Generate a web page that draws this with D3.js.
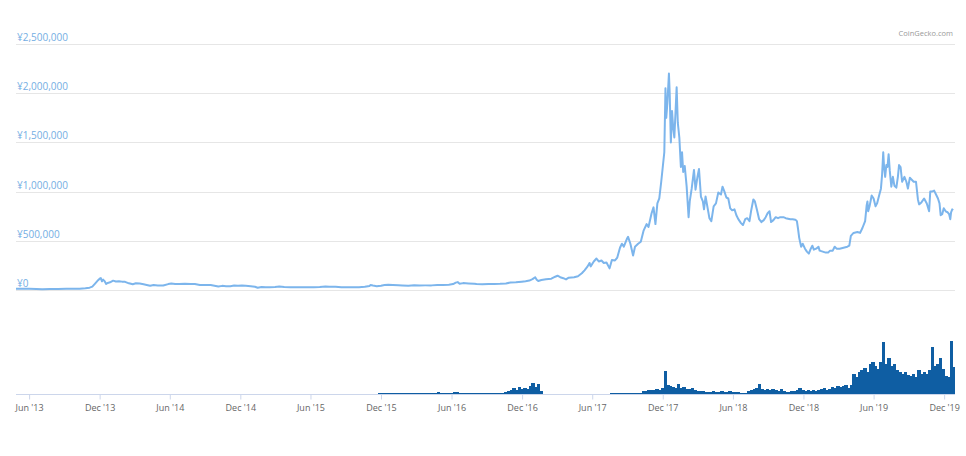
<!DOCTYPE html>
<html>
<head>
<meta charset="utf-8">
<script src="https://cdn.jsdelivr.net/npm/d3@7"></script>
<style>
  html, body { margin: 0; padding: 0; background: #fff; }
  svg { display: block; font-family: "Open Sans", sans-serif; }
</style>
</head>
<body>
<svg id="chart" width="966" height="456"></svg>
<script>
// ---- Price data (BTC in JPY) ----
const priceDates = [
"2013-04-28","2013-05-15","2013-06-01","2013-06-20","2013-07-05","2013-07-25","2013-08-15","2013-09-05","2013-09-25","2013-10-10",
"2013-10-25","2013-11-05","2013-11-12","2013-11-18","2013-11-22","2013-11-27","2013-12-01","2013-12-04","2013-12-07","2013-12-10",
"2013-12-14","2013-12-18","2013-12-22","2013-12-28","2014-01-05","2014-01-12","2014-01-20","2014-01-28","2014-02-05","2014-02-15",
"2014-02-25","2014-03-05","2014-03-15","2014-03-25","2014-04-05","2014-04-11","2014-04-20","2014-05-01","2014-05-15","2014-05-28",
"2014-06-05","2014-06-15","2014-06-25","2014-07-10","2014-07-25","2014-08-05","2014-08-18","2014-09-01","2014-09-15","2014-09-25",
"2014-10-05","2014-10-15","2014-10-25","2014-11-05","2014-11-15","2014-11-25","2014-12-05","2014-12-15","2014-12-28","2015-01-08",
"2015-01-15","2015-01-25","2015-02-05","2015-02-15","2015-03-01","2015-03-12","2015-03-25","2015-04-10","2015-04-25","2015-05-10",
"2015-05-25","2015-06-10","2015-06-25","2015-07-10","2015-07-20","2015-08-05","2015-08-20","2015-09-05","2015-09-20","2015-10-05",
"2015-10-20","2015-11-01","2015-11-04","2015-11-10","2015-11-20","2015-12-01","2015-12-10","2015-12-20","2016-01-01","2016-01-15",
"2016-01-25","2016-02-10","2016-02-25","2016-03-10","2016-03-25","2016-04-10","2016-04-25","2016-05-10","2016-05-25","2016-06-05",
"2016-06-12","2016-06-17","2016-06-22","2016-07-01","2016-07-15","2016-07-30","2016-08-05","2016-08-20","2016-09-05","2016-09-20",
"2016-10-05","2016-10-20","2016-11-01","2016-11-15","2016-11-30","2016-12-10","2016-12-20","2016-12-28","2017-01-04","2017-01-08",
"2017-01-12","2017-01-20","2017-02-01","2017-02-15","2017-02-25","2017-03-03","2017-03-10","2017-03-18","2017-03-25","2017-04-01",
"2017-04-15","2017-04-25","2017-05-05","2017-05-12","2017-05-20","2017-05-25","2017-05-28","2017-06-05","2017-06-12","2017-06-18",
"2017-06-25","2017-07-01","2017-07-08","2017-07-16","2017-07-22","2017-07-30","2017-08-05","2017-08-12","2017-08-17","2017-08-22",
"2017-08-30","2017-09-02","2017-09-08","2017-09-15","2017-09-20","2017-09-28","2017-10-05","2017-10-12","2017-10-20","2017-10-25",
"2017-11-02","2017-11-07","2017-11-12","2017-11-17","2017-11-22","2017-11-27","2017-12-01","2017-12-05","2017-12-08","2017-12-10",
"2017-12-13","2017-12-17","2017-12-19","2017-12-22","2017-12-25","2017-12-28","2017-12-31","2018-01-03","2018-01-06","2018-01-09",
"2018-01-13","2018-01-17","2018-01-20","2018-01-23","2018-01-27","2018-02-01","2018-02-06","2018-02-09","2018-02-14","2018-02-20",
"2018-02-24","2018-03-01","2018-03-05","2018-03-10","2018-03-15","2018-03-18","2018-03-22","2018-03-28","2018-04-01","2018-04-06",
"2018-04-12","2018-04-18","2018-04-24","2018-05-01","2018-05-05","2018-05-10","2018-05-15","2018-05-20","2018-05-25","2018-05-30",
"2018-06-05","2018-06-10","2018-06-15","2018-06-22","2018-06-27","2018-07-03","2018-07-08","2018-07-14","2018-07-18","2018-07-24",
"2018-07-28","2018-08-02","2018-08-08","2018-08-14","2018-08-20","2018-08-25","2018-08-30","2018-09-04","2018-09-08","2018-09-14",
"2018-09-20","2018-09-26","2018-10-02","2018-10-10","2018-10-16","2018-10-22","2018-10-28","2018-11-03","2018-11-10","2018-11-14",
"2018-11-17","2018-11-20","2018-11-25","2018-11-29","2018-12-05","2018-12-10","2018-12-15","2018-12-20","2018-12-24","2018-12-28",
"2019-01-03","2019-01-09","2019-01-12","2019-01-20","2019-01-28","2019-02-03","2019-02-08","2019-02-15","2019-02-20","2019-02-25",
"2019-03-05","2019-03-15","2019-03-25","2019-03-30","2019-04-03","2019-04-10","2019-04-20","2019-04-27","2019-05-03","2019-05-10",
"2019-05-14","2019-05-16","2019-05-18","2019-05-22","2019-05-27","2019-06-01","2019-06-06","2019-06-10","2019-06-16","2019-06-20",
"2019-06-23","2019-06-26","2019-06-28","2019-07-01","2019-07-04","2019-07-07","2019-07-10","2019-07-13","2019-07-17","2019-07-21",
"2019-07-25","2019-07-30","2019-08-03","2019-08-06","2019-08-10","2019-08-14","2019-08-20","2019-08-25","2019-08-29","2019-09-03",
"2019-09-08","2019-09-13","2019-09-19","2019-09-24","2019-09-27","2019-10-03","2019-10-10","2019-10-17","2019-10-23","2019-10-26",
"2019-10-30","2019-11-05","2019-11-10","2019-11-15","2019-11-19","2019-11-22","2019-11-26","2019-11-30","2019-12-05","2019-12-10",
"2019-12-14","2019-12-17","2019-12-19","2019-12-22","2019-12-24"
];
const priceValues = [
13500,12000,12500,11000,8000,9500,10500,12500,12500,13000,
18000,24000,34000,60000,78000,100000,115000,122000,88000,105000,
90000,62000,72000,78000,95000,87000,90000,85000,83000,68000,
58000,68000,65000,58000,48000,43000,51000,46000,46000,60000,
67000,62000,60000,64000,60000,60000,51000,50000,50000,44000,
36000,42000,39000,38000,45000,44000,45000,42000,38000,33000,
23000,30000,27000,28000,31000,35000,30000,28000,27000,29000,
28000,28000,30000,36000,34000,34000,28000,28000,28000,29000,
32000,40000,50000,45000,39000,44000,50000,53000,52000,48000,
46000,44000,48000,46000,47000,47000,50000,51000,54000,60000,
75000,80000,64000,70000,67000,63000,60000,59000,62000,62000,
63000,66000,76000,78000,85000,90000,96000,110000,130000,105000,
92000,102000,110000,115000,135000,145000,130000,120000,108000,125000,
130000,140000,170000,200000,240000,275000,240000,290000,320000,290000,
300000,275000,280000,220000,305000,300000,330000,430000,470000,440000,
520000,540000,470000,350000,440000,470000,490000,600000,670000,640000,
780000,840000,670000,880000,930000,1100000,1250000,1400000,2050000,1750000,
1900000,2200000,2000000,1500000,1820000,1650000,1550000,1800000,2060000,1700000,
1550000,1250000,1400000,1200000,1260000,1050000,740000,900000,1030000,1220000,
1020000,1150000,1230000,950000,900000,820000,950000,820000,730000,700000,
850000,880000,990000,970000,1050000,1000000,940000,930000,830000,810000,
820000,760000,720000,680000,660000,720000,730000,700000,800000,920000,
900000,820000,720000,690000,710000,740000,780000,800000,690000,710000,
740000,730000,740000,740000,730000,725000,720000,720000,715000,700000,
620000,530000,440000,470000,420000,390000,370000,420000,450000,410000,
420000,440000,400000,390000,380000,380000,400000,400000,440000,420000,
420000,430000,440000,450000,550000,580000,590000,580000,630000,700000,
860000,900000,800000,860000,960000,930000,850000,880000,970000,1030000,
1170000,1400000,1260000,1150000,1270000,1250000,1380000,1210000,1050000,1150000,
1060000,1040000,1150000,1270000,1250000,1100000,1150000,1100000,1030000,1140000,
1120000,1100000,1100000,920000,870000,890000,930000,880000,800000,1000000,
1000000,1010000,970000,930000,880000,760000,770000,830000,800000,790000,
770000,720000,790000,820000,810000
];

// ---- Volume data (weekly; unit ≈ ¥60 billion) ----
const volumeStart = "2015-11-01";
const volumeValues = [
0,0,0,0.8,1, 1,1,0.8,1,
1,0.8,1,1,0.6, 1.2,1.5,1.5,1.2, 1,0.6,0.8,1, 1,0.6,1,2, 1,1,1.2,1,1.5,
2,2.5,1.5,1.5, 1,0.8,1,0.6,0.6, 0.6,0.6,0.6,0.6, 0.6,0.6,1,0.6, 1,1.5,2,3,4,
6,4,7,5, 6,5,8,11,
7,10,3,0,0, 0,0,0,0, 0,0,0,0, 0,0,0,0,0, 0,0,0,0, 0,0,0,0, 0,0,0.8,0.8,0.8,
0.8,1,0.6,1, 1,1,0.8,1, 1.5,3,3.5,4,4, 4,5,4,6, 23,9,8,7,6,
10,6,7,5, 5,6,4,3, 3,3,2.5,2.5, 2,3,2,2,3, 2,2,3,2, 2,2,1,1, 1,3,4,5,6,
10,5,4,5, 4,5,4,3,5, 3,2,2,3, 3,4,6,4, 3,4,3,4,3,
4,5,6,4, 5,7,6,8, 7,8,9,6,9, 20,17,22,24, 26,22,30,32, 28,25,32,52,30,
36,28,30,24, 22,20,22,19, 18,20,17,24,20, 22,20,24,47, 28,30,36,25, 18,17,53,27
];

// ---- Axis tick labels ----
const xTickDates = ["2013-06-01","2013-12-01","2014-06-01","2014-12-01","2015-06-01","2015-12-01",
  "2016-06-01","2016-12-01","2017-06-01","2017-12-01","2018-06-01","2018-12-01","2019-06-01","2019-12-01"];
const yTickValues = [0, 500000, 1000000, 1500000, 2000000, 2500000];

const parse = d3.timeParse("%Y-%m-%d");
const price = priceDates.map((d, i) => ({ date: parse(d), value: priceValues[i] }));
const vStart = parse(volumeStart);
const volume = volumeValues.map((v, i) => ({ date: d3.timeWeek.offset(vStart, i), value: v }));
const endDate = parse(priceDates[priceDates.length - 1]);

const svg = d3.select("#chart");

const x = d3.scaleTime()
  .domain([parse(priceDates[0]), endDate])
  .range([16, 953]);
const y = d3.scaleLinear().domain([0, 2500000]).range([290, 44]);
const yv = d3.scaleLinear().domain([0, 56]).range([394, 338]);

// gridlines + y labels
const fmt = v => "¥" + d3.format(",")(v);
const grid = svg.append("g");
grid.selectAll("line").data(yTickValues).join("line")
  .attr("x1", 16).attr("x2", 955)
  .attr("y1", d => Math.round(y(d)) + 0.5).attr("y2", d => Math.round(y(d)) + 0.5)
  .attr("stroke", "#e6e6e6").attr("stroke-width", 1);
grid.selectAll("text").data(yTickValues).join("text")
  .attr("x", 17).attr("y", d => y(d) - 3)
  .attr("font-size", 10).attr("fill", "#74aee3")
  .text(d => fmt(d));

// volume bars
const clipEnd = x(endDate) + 1;
svg.append("g").attr("shape-rendering", "crispEdges")
  .selectAll("rect").data(volume.filter(d => d.value > 0)).join("rect")
  .attr("x", d => x(d.date))
  .attr("width", d => Math.max(1, Math.min(x(d3.timeWeek.offset(d.date, 1)), clipEnd) - x(d.date) + 0.7))
  .attr("y", d => yv(d.value))
  .attr("height", d => yv(0) - yv(d.value))
  .attr("fill", "#0f5ea3");

// x axis
const xAxis = d3.axisBottom(x)
  .tickValues(xTickDates.map(parse))
  .tickFormat(d3.timeFormat("%b '%y"))
  .tickSize(5)
  .tickSizeOuter(0);
const gx = svg.append("g").attr("transform", "translate(0,394.5)").call(xAxis);
gx.select(".domain").attr("stroke", "#ccd6eb").attr("d", "M16,0H955");
gx.selectAll(".tick line").attr("stroke", "#ccd6eb");
gx.selectAll(".tick text").attr("font-size", 9).attr("fill", "#666")
  .attr("font-family", "Open Sans, sans-serif").attr("dy", 0).attr("y", 16);

// price line
const line = d3.line().x(d => x(d.date)).y(d => y(d.value));
svg.append("path").datum(price)
  .attr("d", line).attr("fill", "none")
  .attr("stroke", "#7cb5ec").attr("stroke-width", 2).attr("stroke-linejoin", "round");

// credit
svg.append("text").attr("x", 953).attr("y", 36).attr("text-anchor", "end")
  .attr("font-size", 7.5).attr("fill", "#999").text("CoinGecko.com");
</script>
</body>
</html>
